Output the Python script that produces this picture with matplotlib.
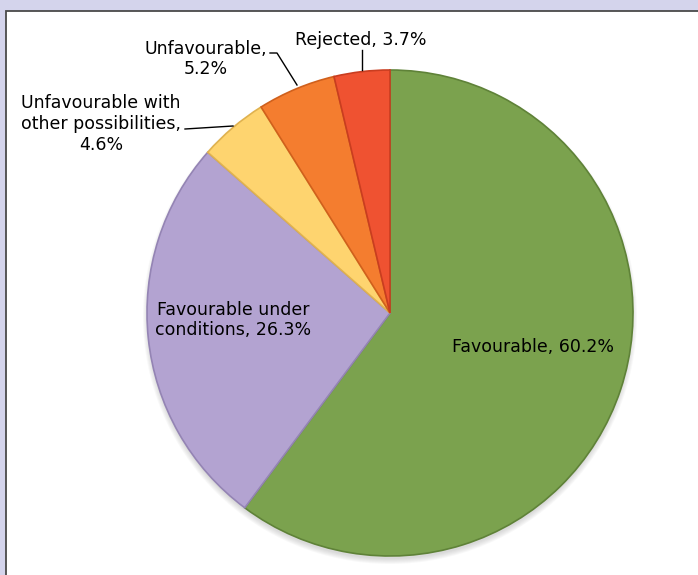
import matplotlib
matplotlib.use("Agg")
import matplotlib.pyplot as plt
from matplotlib.patches import Rectangle, Circle

labels = ["Favourable, 60.2%", "Favourable under\nconditions, 26.3%",
          "Unfavourable with\nother possibilities,\n4.6%", "Unfavourable,\n5.2%",
          "Rejected, 3.7%"]
values = [60.2, 26.3, 4.6, 5.2, 3.7]
colors = ["#7ba24e", "#b3a3d1", "#fed46f", "#f47d2f", "#ef5231"]
edges = ["#5f8238", "#9484b4", "#e0b24f", "#d0601c", "#c93d20"]

W, H = 698, 575
fig = plt.figure(figsize=(W / 100, H / 100), dpi=100)
fig.patch.set_facecolor("#d4d4ec")
ax = fig.add_axes([0, 0, 1, 1])

# white panel with dark border
ax.add_patch(Rectangle((6, -10), 720, H - 11 + 10, facecolor="white",
                       edgecolor="#4a4a4a", lw=1.3))

cx, cy, r = 390, H - 313, 243

# soft shadow under the pie
for k in range(6):
    ax.add_patch(Circle((cx, cy - 4), r + 4 - k, facecolor="#808080",
                        edgecolor="none", alpha=0.05))

wedges, _ = ax.pie(values, colors=colors, startangle=90, counterclock=False,
                   center=(cx, cy), radius=r, frame=True,
                   wedgeprops=dict(linewidth=1.2))
for w, e in zip(wedges, edges):
    w.set_edgecolor(e)
ax.set_xlim(0, W)
ax.set_ylim(0, H)
ax.axis("off")

fs = 12.5
def y(v):
    return H - v

ax.text(533, y(347), labels[0], ha="center", va="center", fontsize=fs)
ax.text(233, y(320), labels[1], ha="center", va="center", fontsize=fs,
        linespacing=1.2)
ax.text(101, y(124), labels[2], ha="center", va="center", fontsize=fs,
        linespacing=1.2)
ax.text(206, y(59), labels[3], ha="center", va="center", fontsize=fs,
        linespacing=1.2)
ax.text(361, y(40), labels[4], ha="center", va="center", fontsize=fs)

# leader lines
ax.plot([185, 233], [y(129), y(126)], color="black", lw=1)
ax.plot([270, 277, 297], [y(53), y(53), y(85)], color="black", lw=1)
ax.plot([362, 362], [y(50), y(70)], color="black", lw=1)

fig.savefig("out.png", dpi=100, facecolor=fig.get_facecolor())
